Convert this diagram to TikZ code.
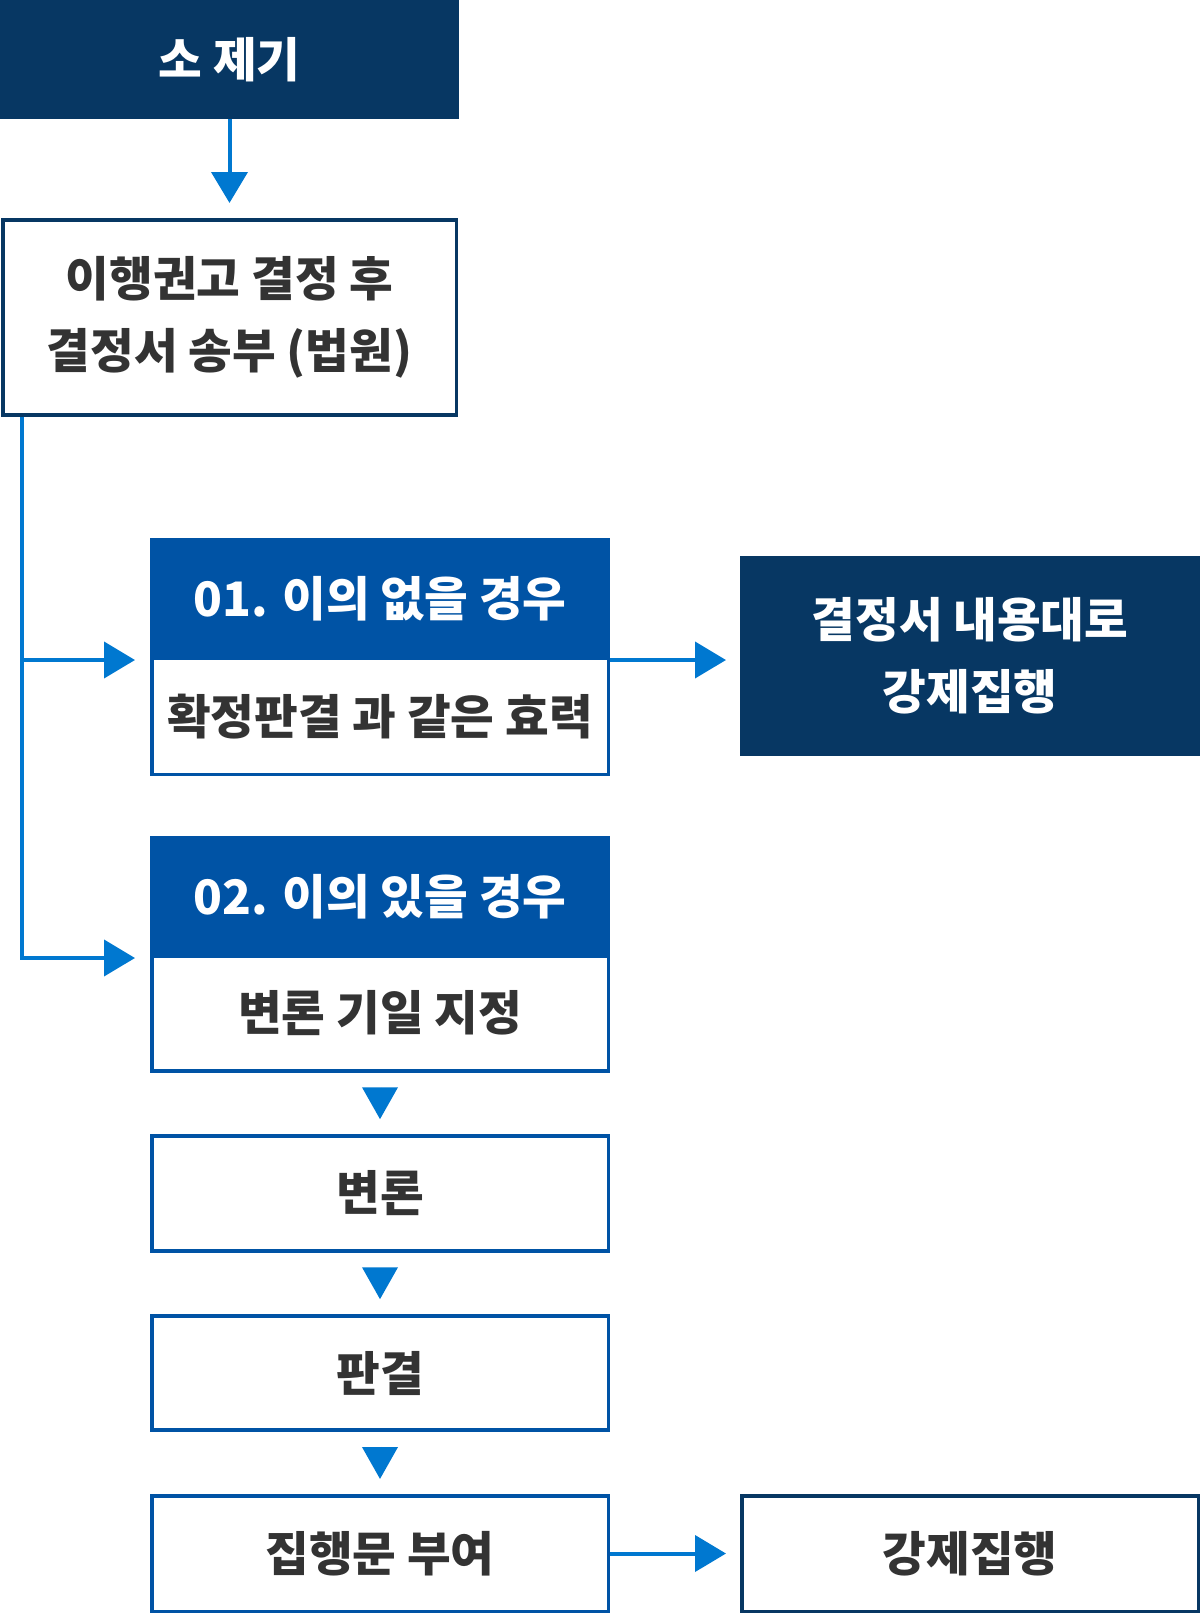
\documentclass[tikz,border=0pt]{standalone}
\usepackage{fontspec}
\setmainfont{Noto Sans CJK KR}
\usepackage{xcolor}
\usetikzlibrary{arrows.meta, calc}
\definecolor{navy}{HTML}{073763}
\definecolor{headblue}{HTML}{0053A5}
\definecolor{linkblue}{HTML}{0078D0}
\definecolor{ink}{HTML}{333333}

\begin{document}
\begin{tikzpicture}[x=1pt, y=-1pt,
        boxtext/.style={font=\fontsize{47.5}{72}\selectfont\bfseries, align=center},
        fillbox/.style={boxtext, fill=#1, text=white, draw=none, outer sep=0pt, inner sep=0pt},
        linebox/.style={boxtext, draw=#1, line width=3.5pt, fill=white, text=ink, inner sep=0pt},
        link/.style={draw=linkblue, line width=4pt, -{Triangle[length=31pt, width=36pt]}},
        drop/.style={draw=linkblue, line width=4pt, -{Triangle[length=32pt, width=35pt]}, shorten <=15pt, shorten >=15pt}]
                                \useasboundingbox (0,0) rectangle (1200,1614);

                                \node[fillbox=navy, minimum width=459pt, minimum height=119pt] (filing) at (229.5, 59.5) {소 제기};
                                \node[linebox=navy, minimum width=453.5pt, minimum height=195pt] (notice) at (229.5, 317.25) {이행권고 결정 후\\결정서 송부 (법원)};

                                \node[linebox=headblue, minimum width=456.5pt, minimum height=116pt] (effect) at (380, 716.25) {확정판결 과 같은 효력};
                                \node[fillbox=headblue, minimum width=460pt, minimum height=122.5pt] (noobj) at (380, 598.75) {01. 이의 없을 경우};
                                \node[fillbox=navy, minimum width=460pt, minimum height=199.5pt] (direct) at (970, 655.75) {결정서 내용대로\\강제집행};

                                \node[linebox=headblue, minimum width=456.5pt, minimum height=114.5pt] (date) at (380, 1013.5) {변론 기일 지정};
                                \node[fillbox=headblue, minimum width=460pt, minimum height=122pt] (withobj) at (380, 897) {02. 이의 있을 경우};
                                \node[linebox=headblue, minimum width=456.5pt, minimum height=115pt] (hearing) at (380, 1193.5) {변론};
                                \node[linebox=headblue, minimum width=456.5pt, minimum height=114pt] (judgment) at (380, 1373) {판결};
                                \node[linebox=headblue, minimum width=456.5pt, minimum height=115.5pt] (writ) at (380, 1553.5) {집행문 부여};
                                \node[linebox=navy, minimum width=456.5pt, minimum height=115.5pt] (enforce) at (970, 1553.5) {강제집행};

                                \coordinate (fork) at ($(notice.south west)+(21,0)$);

                                \draw[link, shorten >=15pt] (filing) -- (notice);
                                \draw[link, shorten >=15pt] (fork) |- (noobj.south west);
                                \draw[link, shorten >=15pt] (fork) |- (withobj.south west);
                                \draw[link, shorten >=14pt] (noobj.south east) -- (noobj.south east -| direct.west);
                                \draw
                                (date) edge[drop] (hearing)
                                (hearing) edge[drop] (judgment)
                                (judgment) edge[drop] (writ);
                                \draw[link, shorten >=14pt] (writ) -- (enforce);
                            \end{tikzpicture}
\end{document}
